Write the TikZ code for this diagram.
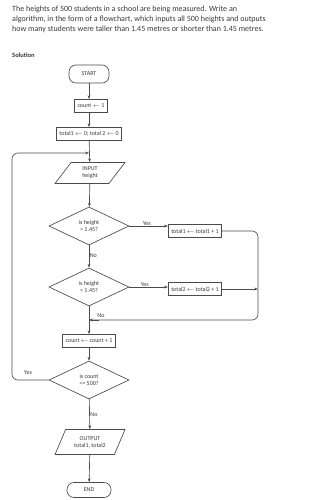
\documentclass[tikz,border=0pt]{standalone}
\usepackage{fontspec}
\setmainfont{Carlito}
\usetikzlibrary{shapes.geometric,arrows.meta}
\definecolor{ink}{HTML}{4A4A4A}
\definecolor{txt}{HTML}{3A3A3A}
\tikzset{
  base/.style={draw=ink, line width=0.65pt, text=txt, font=\fontsize{6}{7}\selectfont, align=center, inner sep=1pt},
  term/.style={base, rounded corners=7pt, minimum width=40pt, minimum height=18pt},
  proc/.style={base, rectangle, minimum height=13pt, inner xsep=3pt},
  io/.style={base, trapezium, trapezium left angle=62, trapezium right angle=118, trapezium stretches=true, minimum width=70pt, minimum height=21pt},
  dec/.style={base, diamond, aspect=2.1, inner sep=0pt, minimum width=80pt, minimum height=38pt},
  line/.style={draw=ink, line width=0.65pt},
  arr/.style={line, -{Stealth[length=3.8pt,width=2.8pt]}},
  lab/.style={text=txt, font=\fontsize{6}{7}\selectfont, inner sep=0.5pt}
}
\begin{document}
\begin{tikzpicture}[x=1pt,y=-1pt]
\useasboundingbox[fill=white] (0,0) rectangle (311,500);
\node[text=txt, font=\fontsize{8}{10}\selectfont, align=left, anchor=north west, inner sep=0pt] (q) at (12,6)
 {The heights of 500 students in a school are being measured. Write an\\
  algorithm, in the form of a flowchart, which inputs all 500 heights and outputs\\
  how many students were taller than 1.45 metres or shorter than 1.45 metres.};
\node[text=txt, font=\bfseries\fontsize{6.5}{7}\selectfont, anchor=west, inner sep=0pt] (sol) at (12,55) {Solution};

\node[term] (start) at (89,74) {START};
\node[proc] (c1) at (91,106) {count $\leftarrow$ 1};
\node[proc] (tot) at (89,134) {total1 $\leftarrow$ 0; total 2 $\leftarrow$ 0};
\node[io] (inp) at (90,173) {INPUT\\height};
\node[dec] (d1) at (89,226) {is height\\> 1.45?};
\node[proc] (b1) at (195,231) {total1 $\leftarrow$ total1 + 1};
\node[dec] (d2) at (89,287) {is height\\< 1.45?};
\node[proc] (b2) at (195,289) {total2 $\leftarrow$ total2 + 1};
\node[proc] (c2) at (89,341) {count $\leftarrow$ count + 1};
\node[dec] (d3) at (89,380) {is count\\<= 500?};
\node[io, minimum height=25pt] (out) at (90,442) {OUTPUT\\total1, total2};
\node[term, minimum width=44pt, minimum height=15pt] (end) at (89,490) {END};

\coordinate (rx) at (258,0);
\coordinate (lx) at (12,0);
\coordinate (mrg) at (89,320);
\coordinate (lp) at (89,153);

\draw[arr] (start) -- (c1.north -| start);
\draw[arr] (c1.south -| start) -- (tot);
\draw[arr] (tot) -- (inp);
\draw[arr] (inp) -- (d1);
\draw[arr] (d1.east) -- node[lab, above, pos=0.45] {Yes} (d1.east -| b1.west);
\draw[line, rounded corners=6pt] (b1.east) -- (b1.east -| rx) -- (rx |- mrg) -- (mrg);
\draw[arr] ([xshift=10pt]mrg) -- (mrg);
\node[lab] (nolab2) at (101,316) {No};
\draw[arr] (d1) -- node[lab, right, pos=0.45] {No} (d2);
\draw[arr] (d2.east) -- node[lab, above, pos=0.4] {Yes} (d2.east -| b2.west);
\draw[arr] (b2.east) -- (b2.east -| rx);
\draw[arr] (d2) -- (c2);
\draw[arr] (c2) -- (d3);
\draw[arr, rounded corners=6pt] (d3.west) -- (d3.west -| lx) -- (lx |- lp) -- (lp);
\node[lab] (yeslab3) at (28,373) {Yes};
\draw[arr] (d3) -- node[lab, right, pos=0.5] {No} (out);
\draw[arr] (out) -- (end);
\end{tikzpicture}
\end{document}
